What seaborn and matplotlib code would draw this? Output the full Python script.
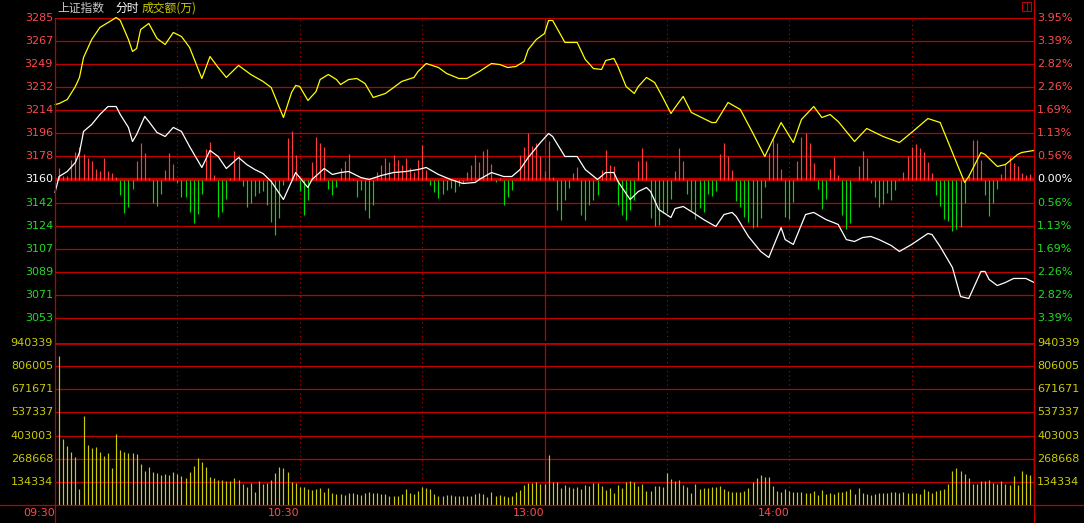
import numpy as np
import seaborn as sns
import matplotlib.pyplot as plt
import matplotlib.transforms as mtransforms
from matplotlib.lines import Line2D
from matplotlib.patches import Rectangle

# ---- data ----
prev_close = 3160.5
price_step = 17.86
price_labels = ["3285", "3267", "3249", "3232", "3214", "3196", "3178", "3160",
                "3142", "3124", "3107", "3089", "3071", "3053"]
pct_labels = ["3.95%", "3.39%", "2.82%", "2.26%", "1.69%", "1.13%", "0.56%", "0.00%",
              "0.56%", "1.13%", "1.69%", "2.26%", "2.82%", "3.39%"]
vol_labels = ["940339", "806005", "671671", "537337", "403003", "268668", "134334"]
time_labels = ["09:30", "10:30", "13:00", "14:00"]
time_minutes = [0, 60, 120, 180]

# yellow line (minute, index value)
yellow_t = [0, 1, 3, 5, 6, 7, 9, 11, 13, 15, 16,
            18, 19, 20, 21, 23, 25, 27, 29, 31, 33,
            36, 38, 40, 42, 45, 48, 51, 53, 56, 58,
            59, 60, 62, 64, 65, 67, 69, 70, 72, 74,
            76, 78, 81, 83, 85, 88, 89, 91, 94, 96,
            99, 101, 104, 107, 109, 111, 113, 115, 116, 118,
            120, 121, 122, 125, 128, 130, 132, 134, 135, 137,
            138, 140, 142, 143, 145, 147, 149, 151, 152, 154,
            156, 161, 162, 165, 168, 171, 174, 176, 178, 181,
            183, 186, 188, 190, 192, 196, 199, 203, 207, 210,
            214, 217, 220, 223, 224, 227, 228, 231, 233, 236,
            237, 240]
yellow_v = [3218.5, 3219.3, 3222.4, 3232.5, 3239.5, 3255.0, 3268.9, 3278.2, 3282.0, 3285.9, 3283.6,
            3268.9, 3259.6, 3261.9, 3276.6, 3281.3, 3269.7, 3265.0, 3274.3, 3271.2, 3262.7,
            3238.7, 3255.7, 3247.2, 3239.5, 3248.8, 3241.8, 3236.4, 3231.7, 3208.5, 3227.9,
            3233.3, 3232.5, 3221.7, 3228.6, 3237.9, 3241.8, 3237.9, 3234.0, 3237.9, 3238.7,
            3234.8, 3224.0, 3227.1, 3231.7, 3236.4, 3239.5, 3244.1, 3250.3, 3247.2, 3242.6,
            3238.7, 3238.7, 3244.1, 3250.3, 3249.5, 3247.2, 3248.0, 3251.9, 3261.1, 3268.9,
            3273.5, 3283.6, 3283.6, 3266.6, 3266.6, 3253.4, 3246.4, 3245.7, 3252.6, 3254.2,
            3248.0, 3232.5, 3227.1, 3232.5, 3239.5, 3235.6, 3224.0, 3211.6, 3216.2, 3224.8,
            3212.4, 3204.6, 3204.6, 3220.1, 3214.7, 3196.9, 3178.3, 3191.5, 3204.6, 3189.1,
            3207.0, 3217.0, 3208.5, 3210.8, 3205.4, 3189.9, 3200.0, 3193.8, 3189.1, 3196.9,
            3207.7, 3204.6, 3181.4, 3158.2, 3162.8, 3181.4, 3179.9, 3170.6, 3172.1, 3179.9,
            3181.4, 3183.0]

# white line
white_t = [0, 1, 3, 5, 6, 7, 9, 11, 13, 15,
           16, 18, 19, 20, 22, 23, 25, 27, 29, 31,
           33, 36, 38, 40, 42, 45, 47, 49, 51, 53,
           56, 58, 59, 60, 62, 63, 66, 68, 70, 72,
           75, 77, 80, 83, 86, 89, 91, 94, 97, 100,
           103, 104, 107, 110, 112, 114, 116, 119, 121, 122,
           125, 128, 130, 133, 135, 137, 138, 141, 143, 145,
           146, 148, 151, 152, 154, 156, 159, 162, 164, 166,
           167, 170, 173, 175, 176, 178, 179, 181, 184, 186,
           189, 192, 194, 196, 198, 200, 202, 205, 207, 210,
           214, 215, 217, 220, 222, 224, 225, 227, 228, 229,
           231, 233, 235, 238, 240]
white_v = [3150.4, 3162.8, 3166.7, 3173.7, 3181.4, 3197.7, 3203.1, 3210.8, 3217.0, 3217.0,
           3210.8, 3200.8, 3189.9, 3195.3, 3209.3, 3205.4, 3196.9, 3193.8, 3200.8, 3197.7,
           3186.0, 3169.8, 3183.0, 3178.3, 3169.0, 3177.5, 3172.1, 3168.2, 3165.1, 3159.0,
           3145.0, 3159.0, 3165.9, 3162.0, 3154.3, 3160.5, 3169.0, 3164.4, 3165.9, 3166.7,
           3162.0, 3160.5, 3163.6, 3165.9, 3166.7, 3168.2, 3169.8, 3164.4, 3160.5, 3157.4,
           3158.2, 3160.5, 3165.9, 3162.8, 3162.8, 3168.2, 3177.5, 3189.1, 3196.1, 3193.8,
           3178.3, 3178.3, 3168.2, 3160.5, 3165.9, 3165.9, 3159.0, 3145.0, 3151.2, 3154.3,
           3151.2, 3137.3, 3131.1, 3138.0, 3139.6, 3135.7, 3129.5, 3124.1, 3133.4, 3135.0,
           3131.9, 3116.4, 3104.8, 3100.1, 3107.9, 3123.3, 3114.0, 3110.2, 3133.4, 3135.0,
           3129.5, 3125.7, 3114.0, 3112.5, 3115.6, 3116.4, 3114.0, 3109.4, 3104.8, 3110.2,
           3118.7, 3117.9, 3108.6, 3092.4, 3069.9, 3068.4, 3075.3, 3089.3, 3089.3, 3083.1,
           3078.4, 3080.8, 3083.9, 3083.9, 3080.8]

# red / green strength bars, minutes 1..240 (own scale)
strength = [12, 4, 4, 20, 28, 33, 26, 22, 19, 11,
            9, 22, 9, 7, 3, -15, -33, -27, -9, 19,
            37, 27, 2, -23, -26, -14, 10, 27, 16, -3,
            -17, -17, -32, -43, -34, -14, 31, 38, 5, -37,
            -32, -19, 2, 29, 25, -6, -27, -23, -16, -13,
            -11, -25, -42, -55, -38, -5, 42, 49, 25, -11,
            -35, -20, 18, 43, 37, 33, -9, -15, -7, 12,
            19, 26, 1, -17, -10, -30, -38, -25, 8, 15,
            22, 18, 25, 20, 15, 22, 12, 8, 20, 35,
            10, -5, -12, -18, -14, -10, -8, -12, -6, -3,
            8, 15, 25, 18, 29, 31, 16, -2, 2, -25,
            -17, -10, 0, 25, 33, 47, 34, 37, 24, 9,
            39, 3, -30, -40, -20, -8, 7, 13, -35, -40,
            -25, -20, -15, 10, 30, 15, 14, -25, -35, -40,
            -30, -20, 19, 32, 19, -38, -46, -45, -33, -33,
            -19, 9, 32, 19, -14, -30, -39, -28, -32, -14,
            -16, -11, 26, 37, 24, 10, -21, -27, -37, -42,
            -48, -47, -38, -7, 27, 42, 37, 11, -37, -39,
            -22, 19, 43, 47, 37, 17, -9, -29, -19, 11,
            23, 5, -35, -49, -43, 0, 14, 29, 22, -3,
            -17, -27, -24, -13, -20, -10, 1, 8, 24, 33,
            36, 32, 28, 18, 7, -15, -26, -39, -41, -51,
            -49, -47, -23, 4, 40, 40, 20, -15, -36, -23,
            -9, 6, 16, 23, 17, 14, 7, 5, 6, 0]

# turnover per minute, thousands of 万, minutes 1..240
turnover_k = [865, 383, 343, 308, 279, 93, 517, 348, 331, 337,
              308, 284, 302, 215, 412, 319, 308, 302, 302, 296,
              238, 197, 221, 192, 186, 174, 180, 174, 192, 180,
              168, 157, 192, 226, 273, 250, 221, 163, 157, 145,
              145, 139, 139, 157, 145, 122, 105, 128, 76, 139,
              122, 128, 145, 186, 221, 215, 192, 134, 128, 105,
              105, 93, 87, 93, 99, 76, 99, 70, 64, 64,
              58, 70, 70, 64, 58, 70, 76, 70, 70, 64,
              64, 52, 52, 52, 64, 93, 70, 64, 81, 105,
              99, 93, 64, 52, 52, 58, 58, 52, 52, 52,
              52, 52, 64, 70, 64, 46, 76, 52, 58, 52,
              46, 52, 76, 87, 116, 128, 128, 134, 122, 122,
              290, 134, 134, 99, 116, 105, 99, 105, 93, 116,
              110, 128, 128, 110, 87, 99, 70, 116, 99, 134,
              139, 134, 110, 122, 81, 81, 110, 110, 105, 186,
              151, 139, 145, 116, 105, 70, 122, 93, 99, 99,
              105, 105, 110, 93, 81, 76, 76, 76, 81, 99,
              134, 157, 174, 163, 163, 110, 81, 76, 93, 81,
              76, 76, 76, 70, 70, 81, 58, 87, 64, 70,
              64, 76, 76, 81, 93, 64, 99, 70, 64, 58,
              64, 70, 70, 70, 76, 76, 70, 76, 70, 70,
              70, 64, 93, 81, 70, 81, 87, 93, 122, 197,
              215, 197, 180, 157, 122, 122, 139, 139, 145, 128,
              122, 139, 122, 116, 168, 116, 197, 180, 174, 284]

# ---- style ----
sns.set_theme(style="dark")
plt.rcParams["font.family"] = ["DejaVu Sans"]
BG = "black"
GRID = "#c00000"
RED_TXT = "#ff4a4a"
GREEN_TXT = "#22dd22"
YEL_TXT = "#cccc00"
BAR_RED = "#ff3c3c"
BAR_GREEN = "#00dd00"

W, H = 1084, 523
fig = plt.figure(figsize=(W / 100, H / 100), dpi=100, facecolor=BG)


def box(x0, y0, x1, y1):
    return [x0 / W, 1 - y1 / H, (x1 - x0) / W, (y1 - y0) / H]


ax_p = fig.add_axes(box(55, 18, 1034, 341))
ax_b = fig.add_axes(box(55, 18, 1034, 341))
ax_l = fig.add_axes(box(55, 18, 1034, 341))
ax_v = fig.add_axes(box(55, 343, 1034, 505))

half = 7 * price_step
for ax in (ax_p, ax_l):
    ax.set_xlim(0, 240)
    ax.set_ylim(prev_close - half, prev_close + half)
ax_b.set_xlim(0, 240)
ax_b.set_ylim(-161.5, 161.5)
ax_v.set_xlim(0, 240)
ax_v.set_ylim(0, 940339)
for ax in (ax_p, ax_b, ax_l, ax_v):
    ax.axis("off")

# price grid + labels
lab_tr = mtransforms.blended_transform_factory(fig.transFigure, ax_p.transData)
for i, (pl, pc) in enumerate(zip(price_labels, pct_labels)):
    k = 7 - i
    level = prev_close + k * price_step
    ax_p.axhline(level, color=GRID, lw=2.4 if k == 0 else 0.9, zorder=1)
    col = RED_TXT if k > 0 else ("white" if k == 0 else GREEN_TXT)
    ax_p.text(53 / W, level, pl, transform=lab_tr, color=col, fontsize=8,
              ha="right", va="center")
    ax_p.text(1037 / W, level, pc, transform=lab_tr, color=col, fontsize=8,
              ha="left", va="center")

# turnover grid + labels
vtr = mtransforms.blended_transform_factory(fig.transFigure, ax_v.transData)
for vl in vol_labels:
    level = float(vl)
    ax_v.axhline(level, color=GRID, lw=2.0 if vl == vol_labels[0] else 0.9, zorder=1)
    ax_v.text(53 / W, level, vl, transform=vtr, color=YEL_TXT, fontsize=8,
              ha="right", va="center")
    ax_v.text(1037 / W, level, vl, transform=vtr, color=YEL_TXT, fontsize=8,
              ha="left", va="center")

# half-hour markers
for ax in (ax_p, ax_v):
    for m in (30, 60, 90, 150, 180, 210):
        ax.axvline(m, color=GRID, lw=0.8, ls=(0, (1, 3)), zorder=1)
    ax.axvline(120, color=GRID, lw=0.9, zorder=1)

# bars
minutes = np.arange(1, 241)
s = np.array(strength)
ax_b.vlines(minutes, 0, s, colors=np.where(s > 0, BAR_RED, BAR_GREEN), lw=0.85)
ax_v.vlines(minutes, 0, np.array(turnover_k) * 1000, colors=YEL_TXT, lw=0.85, zorder=2)

# lines
sns.lineplot(x=yellow_t, y=yellow_v, ax=ax_l, color="#ffff00", lw=0.9)
sns.lineplot(x=white_t, y=white_v, ax=ax_l, color="white", lw=0.9)
for ln in ax_l.lines:
    ln.set_clip_on(False)
ax_l.axis("off")

# time labels
ttr = mtransforms.blended_transform_factory(ax_v.transData, fig.transFigure)
for lab, m in zip(time_labels, time_minutes):
    ax_v.text(m, 1 - 513 / H, lab, transform=ttr, color=RED_TXT, fontsize=8,
              ha="right", va="center")

# frame lines
fig.add_artist(Line2D([55 / W, 55 / W], [1 - 18 / H, 0], color=GRID, lw=0.9))
fig.add_artist(Line2D([1034 / W, 1034 / W], [1, 0], color=GRID, lw=0.9))
fig.add_artist(Line2D([0, 1], [1 - 505 / H, 1 - 505 / H], color=GRID, lw=0.9))

# header
cjk = ["Noto Sans CJK SC", "DejaVu Sans"]
fig.text(57 / W, 1 - 8 / H, "上证指数", color="#c8c8c8", fontsize=8.5, family=cjk,
         ha="left", va="center")
fig.text(115 / W, 1 - 8 / H, "分时", color="white", fontsize=8.5, family=cjk,
         ha="left", va="center")
fig.text(142 / W, 1 - 8 / H, "成交额(万)", color=YEL_TXT, fontsize=8.5, family=cjk,
         ha="left", va="center")
fig.add_artist(Rectangle((1022 / W, 1 - 11 / H), 9 / W, 9 / H, fill=False,
                         edgecolor=GRID, lw=0.8, transform=fig.transFigure))
fig.add_artist(Line2D([1026.5 / W, 1026.5 / W], [1 - 11 / H, 1 - 2 / H], color=GRID, lw=0.8))

fig.savefig("out.png", dpi=100, facecolor=BG)
